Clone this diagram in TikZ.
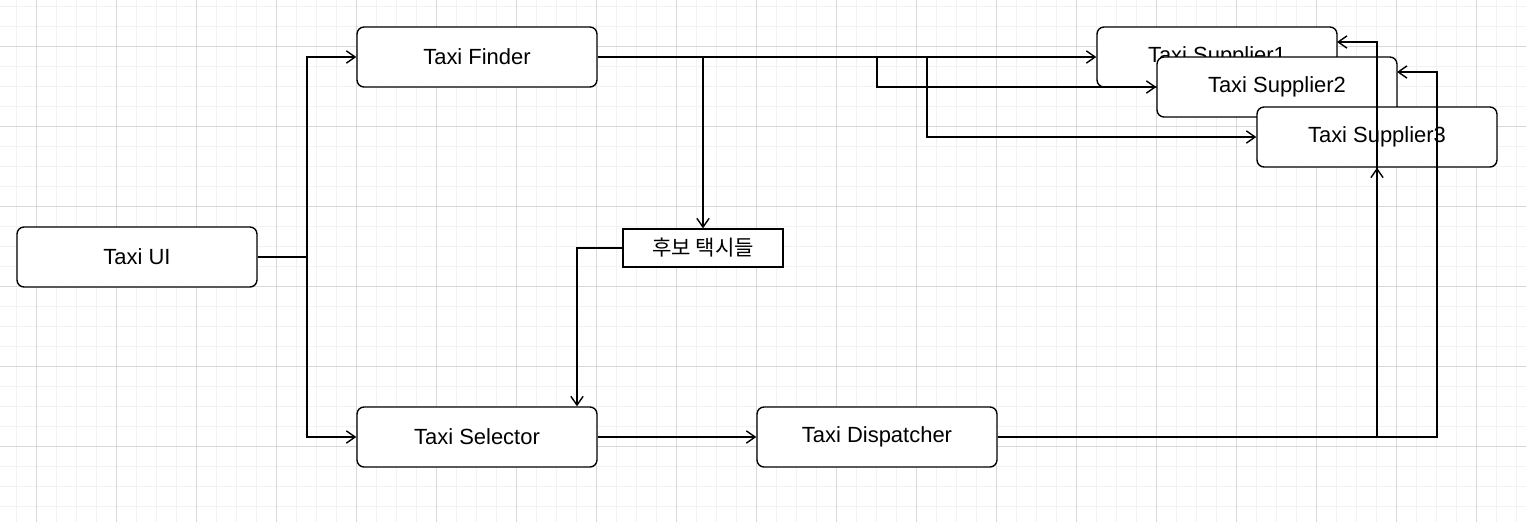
\documentclass[tikz,border=0pt]{standalone}
\usepackage{fontspec}
\setmainfont{Liberation Sans}
\newfontfamily\cjk{Noto Sans CJK KR}
\usetikzlibrary{arrows.meta}
\begin{document}
\begin{tikzpicture}[x=0.02cm,y=-0.02cm,
    box/.style={draw,thick,fill=white,rounded corners=4pt,minimum width=4.8cm,minimum height=1.2cm,font=\fontsize{12.5}{14}\selectfont},
    tag/.style={draw,thick,fill=white,minimum width=3.2cm,minimum height=0.76cm,font=\cjk\fontsize{12}{14}\selectfont},
    link/.style={thick,-{Straight Barb[length=5pt,width=7pt]}}]
        \useasboundingbox (0,0) rectangle (1526,522);
        \foreach \x in {16,36,...,1526} {
          \draw[black!5] (\x,0) -- (\x,522);
        }
        \foreach \y in {6,26,...,522} {
          \draw[black!5] (0,\y) -- (1526,\y);
        }
        \foreach \x in {36,116,...,1526} {
          \draw[black!15] (\x,0) -- (\x,522);
        }
        \foreach \y in {46,126,...,522} {
          \draw[black!15] (0,\y) -- (1526,\y);
        }
        \node[box] (ui) at (137,257) {Taxi UI};
        \node[box] (finder) at (477,57) {Taxi Finder};
        \node[box] (selector) at (477,437) {Taxi Selector};
        \node[box] (dispatcher) at (877,437) {Taxi Dispatcher};
        \node[box] (sup1) at (1217,57) {Taxi Supplier1};
        \node[box] (sup2) at (1277,87) {Taxi Supplier2};
        \node[box] (sup3) at (1377,137) {Taxi Supplier3};
        \node[tag] (cand) at (703,248) {후보 택시들};
        % UI to finder and selector
        \draw[link] (ui.east) -| (307,57) -- (finder.west);
        \draw[link] (ui.east) -| (307,437) -- (selector.west);
        % finder to suppliers
        \draw[link] (finder.east) -- (sup1.west);
        \draw[link] (877,57) |- (sup2.west);
        \draw[link] (927,57) |- (sup3.west);
        \draw[link] (703,57) -- (cand.north);
        % candidates to selector
        \draw[link] (cand.west) -| (selector.north -| 577,0);
        \draw[link] (selector.east) -- (dispatcher.west);
        % dispatcher to suppliers
        \draw[link] (dispatcher.east) -| (sup3.south);
        \draw[link] (1377,437) |- (1337,42);
        \draw[link] (dispatcher.east) -| (1437,72) -- (1397,72);
      \end{tikzpicture}
\end{document}
